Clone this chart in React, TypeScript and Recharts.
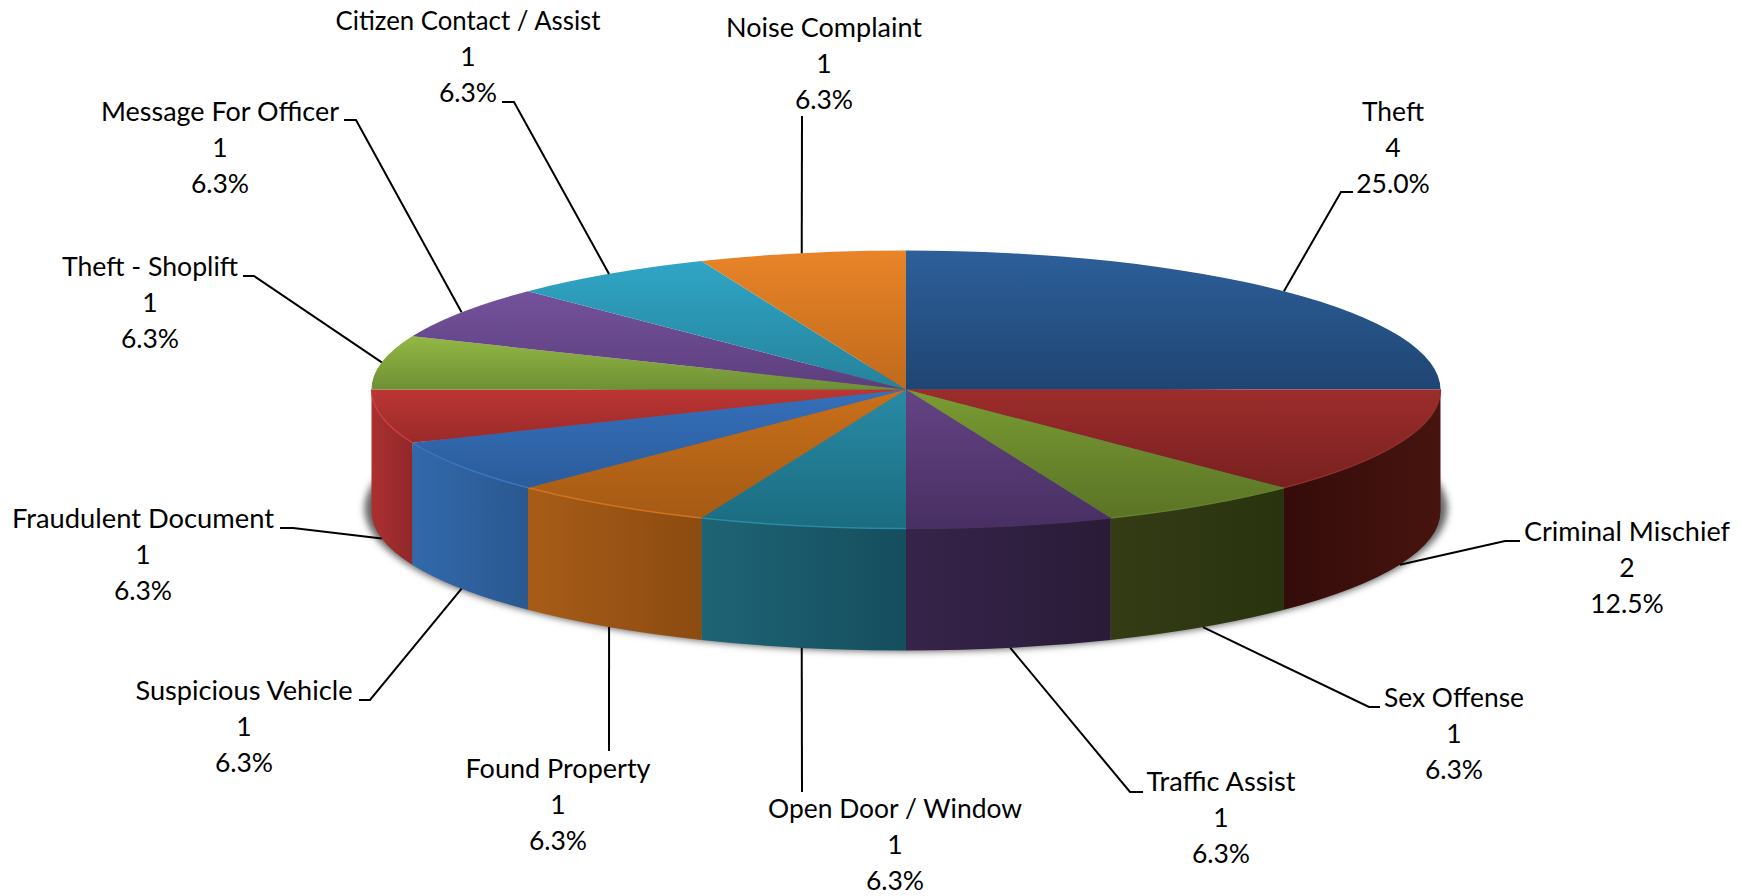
import { PieChart, Pie } from "recharts";

const categories = [
  "Theft", "Criminal Mischief", "Sex Offense", "Traffic Assist",
  "Open Door / Window", "Found Property", "Suspicious Vehicle", "Fraudulent Document",
  "Theft - Shoplift", "Message For Officer", "Citizen Contact / Assist", "Noise Complaint",
];
const counts = [4, 2, 1, 1, 1, 1, 1, 1, 1, 1, 1, 1];

// top face of each slice, light to dark going down
const topLight = ["#2d5f9a", "#9c2d2c", "#7a9c33", "#654385", "#288ba5", "#c9701a", "#3570bb", "#bb3633", "#92b843", "#74529c", "#30a5c6", "#e98428"];
const topDark = ["#1f4573", "#782020", "#5a7326", "#482f62", "#1b6c80", "#a55a14", "#2b5c9b", "#9a2a2a", "#6f8f36", "#5c3e7c", "#25829b", "#bf6a1c"];
// side wall, left to right
const wallLeft = ["", "#340c0a", "#333c15", "#36244a", "#1e6475", "#a85c18", "#3269ab", "#ab3030", "", "", "", ""];
const wallRight = ["", "#47140f", "#29330e", "#2a1b38", "#154e5e", "#8c4b10", "#2a5890", "#91272a", "", "", "", ""];
const rimColors = ["", "#8f2e2c", "#667f2c", "#4b3263", "#2a8ba3", "#d0741e", "#3a76bf", "#cc3c3c", "", "", "", ""];

// label centre x, first baseline y, width of the name line
const labelX = [1393, 1627, 1454, 1221, 895, 558, 244, 143, 150, 220, 468, 824];
const labelY = [121, 541, 707, 791, 818, 778, 700, 528, 276, 121, 30, 37];
const nameWidth = [62, 206, 140, 149, 254, 185, 217, 262, 176, 238, 265, 196];
// leader line: elbow point, then end of the little tick next to the text
const elbows: number[][][] = [
  [[1341, 192], [1353, 192]],
  [[1505, 541], [1520, 541]],
  [[1369, 707], [1380, 707]],
  [[1130, 792], [1143, 792]],
  [[802, 792]],
  [[609, 751]],
  [[370, 700], [359, 700]],
  [[293, 528], [280, 528]],
  [[254, 276], [243, 276]],
  [[356, 120], [344, 120]],
  [[514, 102], [502, 102]],
  [[802, 116]],
];

const CX = 906;
const CY = 389.5;
const RX = 534.5;
const RY = 139;
const DEPTH = 122;

const data = categories.map((name, i) => ({ name, value: counts[i] }));

const px = (a: number) => CX + RX * Math.cos((a * Math.PI) / 180);
const py = (a: number) => CY - RY * Math.sin((a * Math.PI) / 180);

const Slice = (props: any) => {
  const i = categories.indexOf(props.name);
  const { startAngle, endAngle } = props;
  const top = `M${CX} ${CY}L${px(startAngle)} ${py(startAngle)}A${RX} ${RY} 0 0 1 ${px(endAngle)} ${py(endAngle)}Z`;
  const front = startAngle <= 0 && endAngle >= -180;
  const arc = `M${px(startAngle)} ${py(startAngle)}A${RX} ${RY} 0 0 1 ${px(endAngle)} ${py(endAngle)}`;
  const wall = `${arc}L${px(endAngle)} ${py(endAngle) + DEPTH}A${RX} ${RY} 0 0 0 ${px(startAngle)} ${py(startAngle) + DEPTH}Z`;
  return (
    <g>
      <defs>
        <linearGradient id={`top${i}`} x1="0" y1="0" x2="0" y2="1">
          <stop offset="0" stopColor={topLight[i]} />
          <stop offset="1" stopColor={topDark[i]} />
        </linearGradient>
        <linearGradient id={`wall${i}`} x1="0" y1="0" x2="1" y2="0">
          <stop offset="0" stopColor={wallLeft[i]} />
          <stop offset="1" stopColor={wallRight[i]} />
        </linearGradient>
      </defs>
      {front && <path d={wall} fill={`url(#wall${i})`} />}
      <path d={top} fill={`url(#top${i})`} />
      {front && <path d={arc} fill="none" stroke={rimColors[i]} strokeWidth={1.5} />}
    </g>
  );
};

const SliceLabel = (props: any) => {
  const i = categories.indexOf(props.name);
  const a = props.midAngle;
  const startY = py(a) + (a < 0 && a > -180 ? DEPTH : 0);
  const points = [[px(a), startY], ...elbows[i]].map((p) => p.join(",")).join(" ");
  const lines = [props.name, String(props.value), `${(props.percent * 100).toFixed(1)}%`];
  return (
    <g>
      <polyline points={points} fill="none" stroke="#000" strokeWidth={2} />
      {lines.map((line, n) => (
        <text
          key={n}
          x={labelX[i]}
          y={labelY[i] + n * 36}
          textAnchor="middle"
          fill="#000"
          textLength={n === 0 ? nameWidth[i] : undefined}
          lengthAdjust="spacingAndGlyphs"
          style={{ fontFamily: "Lato", fontSize: 26.5 }}
        >
          {line}
        </text>
      ))}
    </g>
  );
};

export default function App() {
  return (
    <div style={{ position: "absolute", left: 0, top: 0, width: 1747, height: 896, background: "#fff" }}>
      <PieChart width={1747} height={896} margin={{ top: 0, right: 0, bottom: 0, left: 0 }}>
        <defs>
          <filter id="pieShadow" x="-5%" y="-20%" width="110%" height="140%">
            <feGaussianBlur stdDeviation="3.5" />
          </filter>
        </defs>
        <ellipse cx={CX} cy={CY + DEPTH - 3} rx={RX + 7} ry={RY + 4} fill="#666" filter="url(#pieShadow)" />
        <Pie
          data={data}
          dataKey="value"
          nameKey="name"
          cx={CX}
          cy={CY}
          outerRadius={RX}
          startAngle={90}
          endAngle={-270}
          stroke="none"
          shape={Slice}
          label={SliceLabel}
          labelLine={false}
          isAnimationActive={false}
        />
      </PieChart>
    </div>
  );
}
